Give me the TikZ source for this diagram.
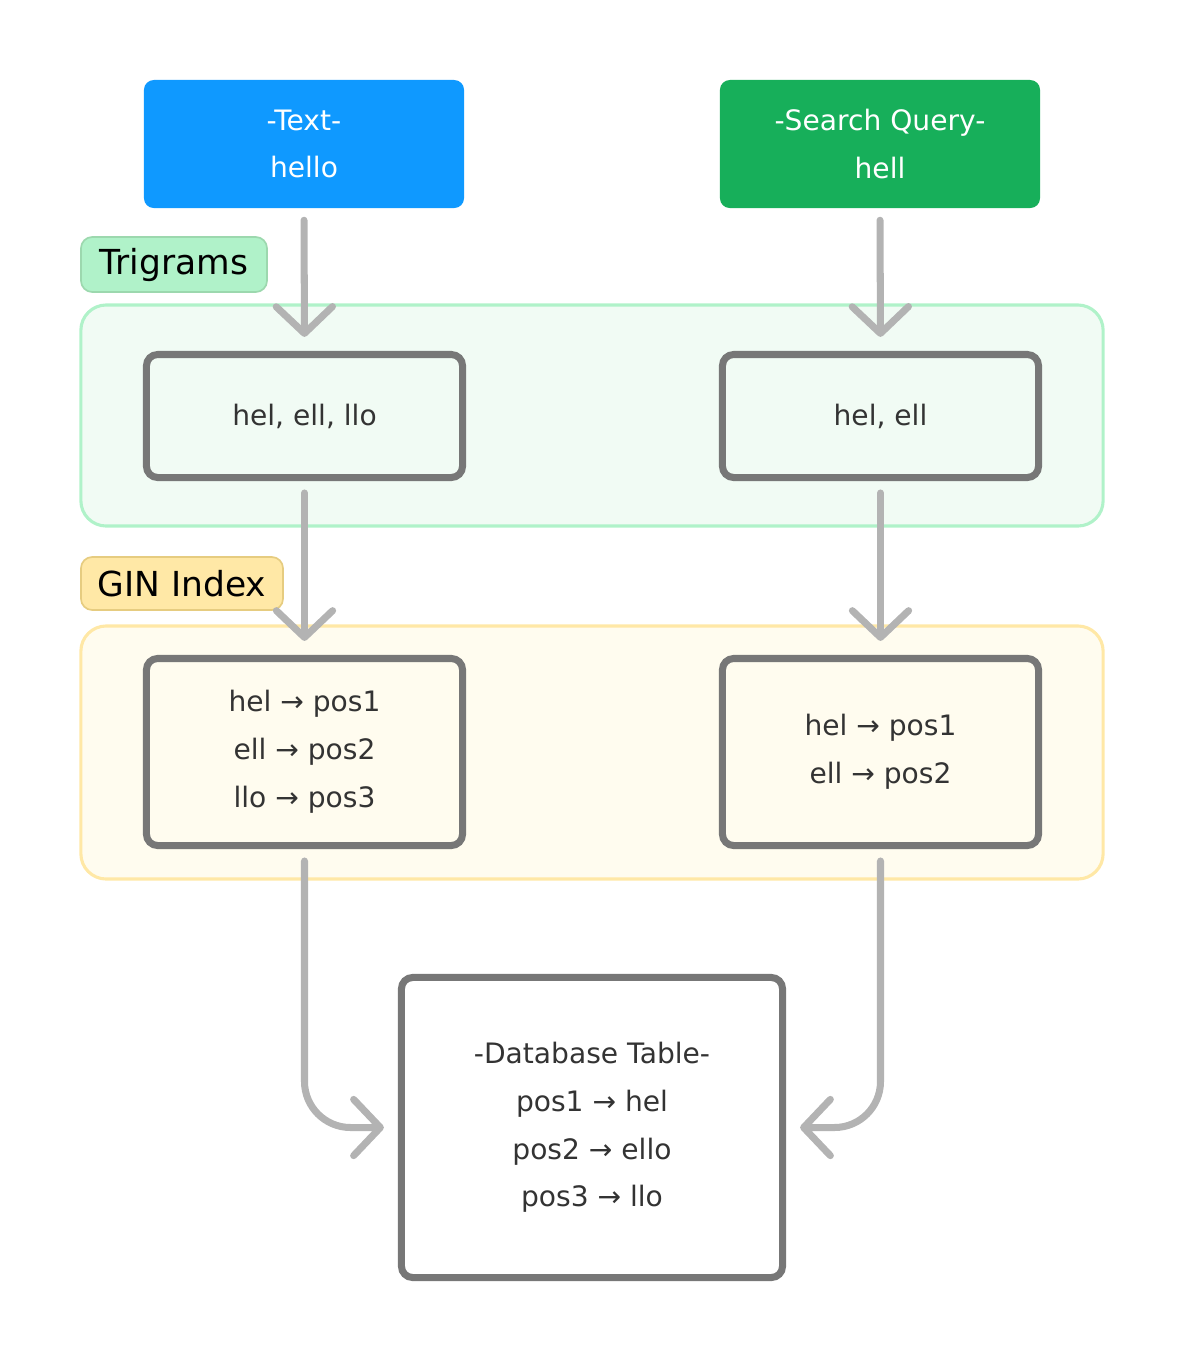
\documentclass[tikz,border=0pt]{standalone}
\usepackage{fontspec}
\setmainfont{DejaVu Sans}
\newfontfamily\symfont{DejaVu Sans}
\newcommand{\tto}{{\symfont →}}
\usetikzlibrary{arrows.meta,positioning}
\definecolor{textblue}{HTML}{0F99FF}
\definecolor{querygreen}{HTML}{17AF5A}
\definecolor{trilabel}{HTML}{B0F2C9}
\definecolor{triborder}{HTML}{9CD8AE}
\definecolor{trifill}{HTML}{F1FBF4}
\definecolor{ginlabel}{HTML}{FFE8A6}
\definecolor{ginborder}{HTML}{E6CC80}
\definecolor{ginfill}{HTML}{FFFCEF}
\definecolor{boxgray}{HTML}{777777}
\definecolor{flowgray}{HTML}{B3B3B3}
\definecolor{inktext}{HTML}{333333}
\tikzset{
  inputbox/.style={rounded corners=7pt,minimum width=8cm,minimum height=3.2cm,
    text=white,align=center,font=\fontsize{20}{34}\selectfont},
  stagebox/.style={draw=boxgray,line width=5pt,rounded corners=8pt,minimum width=7.9cm,
    text=inktext,align=center,font=\fontsize{20}{34}\selectfont},
  grouplabel/.style={rounded corners=8pt,line width=1.2pt,text=black,
    font=\fontsize{24.5}{28}\selectfont},
  groupbg/.style={rounded corners=18pt,line width=2.2pt,minimum width=25.55cm},
  flow/.style={draw=flowgray,line width=5pt,line cap=round,
    -{Straight Barb[length=19pt,width=40pt,round]},shorten <=8.5pt,shorten >=10pt}
}
\begin{document}
\begin{tikzpicture}[x=0.025cm,y=-0.025cm]
\useasboundingbox (0,0) rectangle (1184,1364);

% Background groups
\node[groupbg,draw=trilabel,fill=trifill,minimum height=5.525cm] (trigroup) at (592,415.5) {};
\node[groupbg,draw=ginlabel,fill=ginfill,minimum height=6.325cm] (gingroup) at (592,752.5) {};

% Group labels
\node[grouplabel,draw=triborder,fill=trilabel,minimum width=4.65cm,minimum height=1.375cm] (trilab) at (174,264.5) {Trigrams};
\node[grouplabel,draw=ginborder,fill=ginlabel,minimum width=5.05cm,minimum height=1.325cm] (ginlab) at (182,583.5) {GIN Index};

% Inputs
\node[inputbox,fill=textblue] (text) at (304,144) {-Text-\\hello};
\node[inputbox,fill=querygreen] (query) at (880,144) {-Search Query-\\hell};

% Trigram boxes
\node[stagebox,minimum height=3.075cm] (tl) at (304.5,416) {hel, ell, llo};
\node[stagebox,minimum height=3.075cm] (tr) at (880.5,416) {hel, ell};

% GIN boxes
\node[stagebox,minimum height=4.675cm] (gl) at (304.5,752) {hel \tto{} pos1\\ell \tto{} pos2\\llo \tto{} pos3};
\node[stagebox,minimum height=4.675cm] (gr) at (880.5,752) {hel \tto{} pos1\\ell \tto{} pos2};

% Database table
\node[stagebox,fill=white,minimum width=9.525cm,minimum height=7.5cm] (db) at (592,1127.5)
  {-Database Table-\\pos1 \tto{} hel\\pos2 \tto{} ello\\pos3 \tto{} llo};

% Flow arrows
\draw[flow] (text.south) -- (tl.north);
\draw[flow] (query.south) -- (tr.north);
\draw[flow] (tl.south) -- (gl.north);
\draw[flow] (tr.south) -- (gr.north);
\draw[flow,rounded corners=1.15cm] (gl.south) |- (db.west);
\draw[flow,rounded corners=1.15cm] (gr.south) |- (db.east);
\end{tikzpicture}
\end{document}
